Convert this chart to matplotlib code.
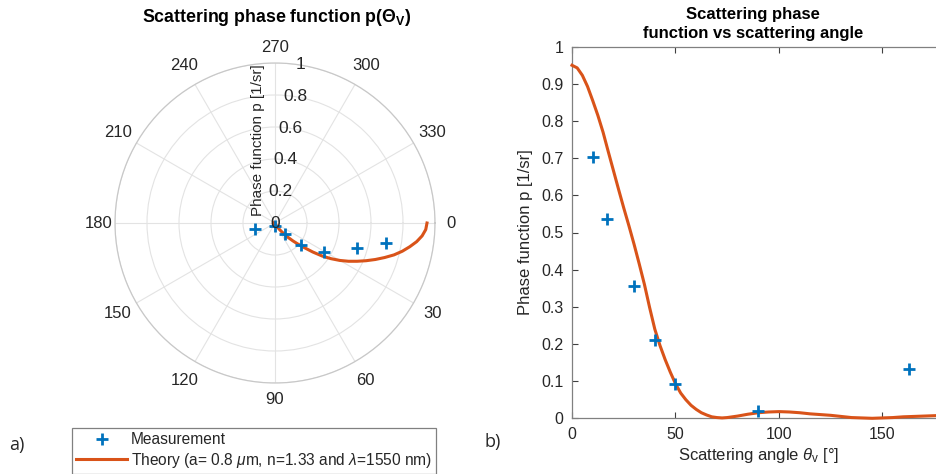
import numpy as np
import matplotlib
matplotlib.use("Agg")
import matplotlib.pyplot as plt

plt.rcParams['font.family'] = ['Liberation Sans', 'DejaVu Sans']
plt.rcParams['mathtext.fontset'] = 'custom'
plt.rcParams['mathtext.rm'] = 'Liberation Sans'
plt.rcParams['mathtext.it'] = 'Liberation Sans:italic'
plt.rcParams['mathtext.bf'] = 'Liberation Sans:bold'

# ---- data ----
meas_angle = [10, 17, 30, 40, 50, 90, 163]            # degrees
meas_p = [0.702, 0.535, 0.357, 0.211, 0.093, 0.019, 0.132]

theory_angle = [0, 2.5, 5, 7.5, 10, 12.5, 15, 17.5, 20, 22.5, 25, 27.5, 30, 32.5,
                35, 37.5, 40, 42.5, 45, 47.5, 50, 52.5, 55, 57.5, 60, 62.5, 65,
                67.5, 70, 72.5, 75, 77.5, 80, 85, 90, 95, 100, 105, 110, 115, 120,
                125, 130, 135, 140, 145, 150, 155, 160, 165, 170, 175, 180]
theory_p = [0.950, 0.943, 0.923, 0.893, 0.855, 0.815, 0.770, 0.718, 0.667, 0.616,
            0.566, 0.518, 0.468, 0.415, 0.360, 0.298, 0.240, 0.196, 0.158, 0.124,
            0.093, 0.068, 0.050, 0.035, 0.024, 0.015, 0.009, 0.004, 0.002, 0.001,
            0.002, 0.004, 0.006, 0.011, 0.015, 0.017, 0.018, 0.017, 0.015, 0.012,
            0.010, 0.008, 0.005, 0.002, 0.001, 0.000, 0.001, 0.002, 0.004, 0.005,
            0.006, 0.007, 0.008]

theta_ticks = list(range(0, 360, 30))
r_ticks = [0, 0.2, 0.4, 0.6, 0.8, 1.0]
r_tick_labels = ['0', '0.2', '0.4', '0.6', '0.8', '1']
x_ticks = [0, 50, 100, 150]
y_ticks = [0, 0.1, 0.2, 0.3, 0.4, 0.5, 0.6, 0.7, 0.8, 0.9, 1.0]
y_tick_labels = ['0', '0.1', '0.2', '0.3', '0.4', '0.5', '0.6', '0.7', '0.8', '0.9', '1']

BLUE = '#0072BD'
ORANGE = '#D95319'
TXT = '#262626'

W, H = 937, 474
fig = plt.figure(figsize=(W / 100, H / 100), dpi=100)

# ---- polar plot ----
cx, cy, R = 275, 223, 160
axp = fig.add_axes([(cx - R) / W, (H - cy - R) / H, 2 * R / W, 2 * R / H], projection='polar')
axp.set_theta_zero_location('E')
axp.set_theta_direction(-1)
axp.set_ylim(0, 1)
axp.set_yticks(r_ticks)
axp.set_yticklabels([])
axp.set_xticks(np.deg2rad(theta_ticks))
axp.set_xticklabels([])
axp.grid(True, color='#e3e3e3', linewidth=0.8)
axp.spines['polar'].set_color('#c8c8c8')
axp.spines['polar'].set_linewidth(0.9)
axp.tick_params(length=0)

th_m = np.deg2rad(meas_angle)
th_t = np.deg2rad(theory_angle)
axp.plot(th_t, theory_p, color=ORANGE, lw=2.2, zorder=3, clip_on=False)
axp.plot(th_m, meas_p, '+', color=BLUE, ms=9, mew=2, zorder=4, clip_on=False)

for t in theta_ticks:
    rr = 1.10 + 0.04 * abs(np.sin(np.deg2rad(2 * t)))
    axp.text(np.deg2rad(t), rr, str(t), ha='center', va='center', fontsize=12,
             color=TXT, clip_on=False)
for r, lab in zip(r_ticks, r_tick_labels):
    axp.text(np.deg2rad(279), r, lab, ha='center', va='center', fontsize=12.5,
             color=TXT, zorder=5)

fig.text(258 / W, 1 - 140 / H, 'Phase function p [1/sr]', rotation=90, ha='center',
         va='center', fontsize=11, color=TXT)
fig.text(277 / W, 1 - 18 / H, r'Scattering phase function p($\mathbf{\Theta_{V}}$)',
         ha='center', va='center', fontsize=12.8, fontweight='bold', color='black')

# ---- cartesian plot ----
x0, x1 = 572, 572 + 180 * 2.07
y0, y1 = 418.3, 46.7
ax = fig.add_axes([x0 / W, (H - y0) / H, (x1 - x0) / W, (y0 - y1) / H])
l_theory, = ax.plot(theory_angle, theory_p, color=ORANGE, lw=2.2, zorder=3, clip_on=False)
l_meas, = ax.plot(meas_angle, meas_p, '+', color=BLUE, ms=9, mew=2, zorder=4, linestyle='none')
ax.set_xlim(0, 180)
ax.set_ylim(0, 1)
ax.set_xticks(x_ticks)
ax.set_xticklabels([str(v) for v in x_ticks])
ax.set_yticks(y_ticks)
ax.set_yticklabels(y_tick_labels)
ax.tick_params(direction='in', length=4, width=0.8, colors='#404040', labelsize=11.5,
               labelcolor=TXT, top=True, right=True, pad=6)
for s in ax.spines.values():
    s.set_color('#808080')
    s.set_linewidth(0.9)
ax.set_xlabel(r'Scattering angle $\theta_{\mathrm{v}}$ [°]', fontsize=12, color=TXT, labelpad=3)
ax.set_ylabel('Phase function p [1/sr]', fontsize=12, color=TXT, labelpad=6)
fig.text(753 / W, 1 - 24 / H, 'Scattering phase\nfunction vs scattering angle',
         ha='center', va='center', fontsize=12, fontweight='bold', color='black',
         linespacing=1.4)

# ---- legend ----
leg = fig.legend([l_meas, l_theory],
                 ['Measurement',
                  r'Theory (a= 0.8 $\mu$m, n=1.33 and $\lambda$=1550 nm)'],
                 loc='upper left', bbox_to_anchor=(72 / W, 1 - 428 / H),
                 borderaxespad=0, fontsize=11.2, frameon=True, fancybox=False,
                 edgecolor='#808080', framealpha=1, handlelength=3.25,
                 handletextpad=0.25, labelspacing=0.22, borderpad=0.28)
leg.get_frame().set_linewidth(0.9)
for t in leg.get_texts():
    t.set_color(TXT)

fig.text(17 / W, 1 - 445 / H, 'a)', ha='center', va='center', fontsize=13,
         family=['Open Sans', 'DejaVu Sans'], color=TXT)
fig.text(493 / W, 1 - 442 / H, 'b)', ha='center', va='center', fontsize=13,
         family=['Open Sans', 'DejaVu Sans'], color=TXT)

fig.savefig('out.png', dpi=100)
